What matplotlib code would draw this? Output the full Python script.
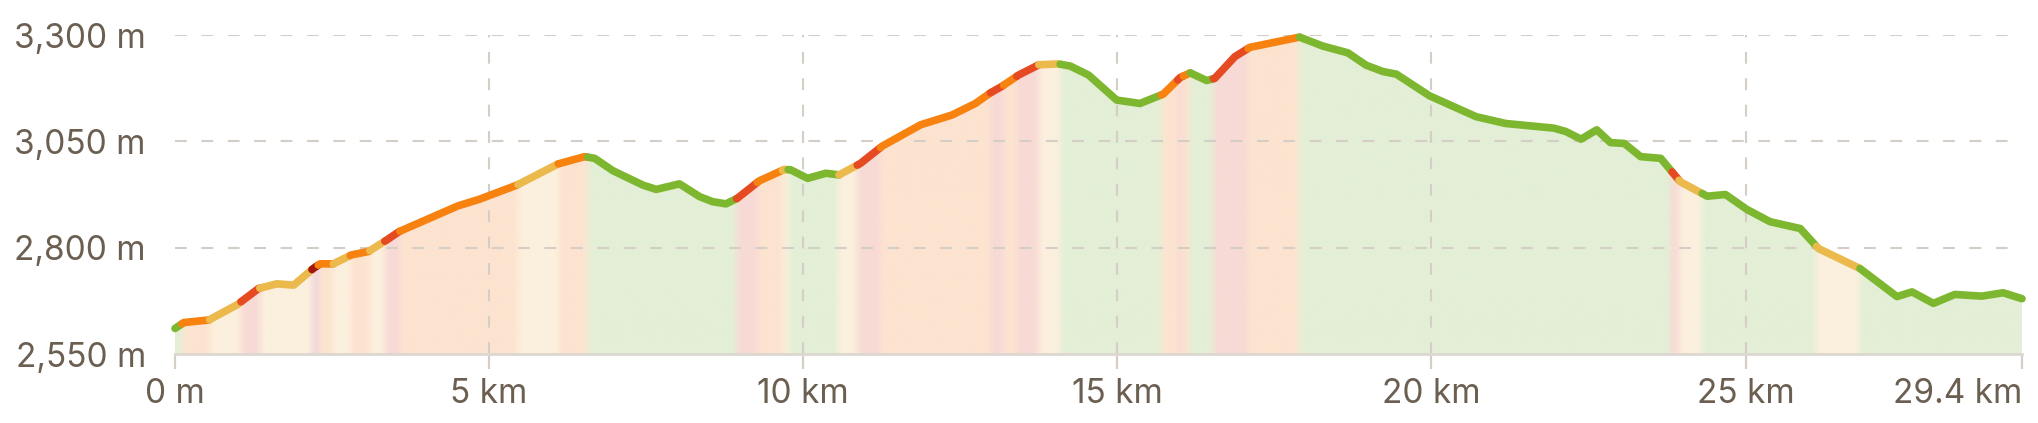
import numpy as np
import matplotlib
matplotlib.use('Agg')
import matplotlib.pyplot as plt
from matplotlib.patches import Polygon
from matplotlib.colors import to_rgb

# elevation profile (distance in km, elevation in m)
dist_km = [0.00, 0.14, 0.54, 0.99, 1.33, 1.62, 1.89, 2.20, 2.31, 2.52, 2.81, 3.08,
           3.37, 3.57, 4.50, 4.85, 5.44, 6.10, 6.52, 6.68, 6.97, 7.45, 7.66, 8.03,
           8.35, 8.56, 8.77, 8.95, 9.30, 9.70, 9.80, 10.07, 10.36, 10.57, 10.91, 11.26,
           11.87, 12.37, 12.74, 12.98, 13.16, 13.43, 13.75, 14.06, 14.25, 14.54, 14.99, 15.36,
           15.73, 16.00, 16.16, 16.42, 16.55, 16.87, 17.11, 17.90, 18.27, 18.67, 18.96, 19.23,
           19.44, 19.97, 20.71, 21.18, 21.95, 22.14, 22.38, 22.63, 22.85, 23.07, 23.33, 23.65,
           23.96, 24.39, 24.68, 25.02, 25.39, 25.87, 26.16, 26.82, 27.41, 27.65, 27.99, 28.33,
           28.76, 29.10, 29.40]
elev_m = [2610, 2624, 2630, 2666, 2704, 2715, 2712, 2751, 2762, 2762, 2783, 2791,
          2818, 2838, 2898, 2914, 2947, 2997, 3014, 3010, 2981, 2947, 2937, 2950,
          2920, 2908, 2903, 2916, 2957, 2984, 2983, 2963, 2975, 2971, 2998, 3039,
          3089, 3112, 3139, 3164, 3179, 3206, 3230, 3232, 3227, 3206, 3147, 3139,
          3161, 3200, 3211, 3193, 3198, 3249, 3271, 3295, 3274, 3258, 3229, 3214,
          3208, 3157, 3108, 3092, 3081, 3073, 3055, 3077, 3047, 3045, 3014, 3010,
          2955, 2921, 2925, 2890, 2861, 2845, 2798, 2751, 2685, 2696, 2669, 2690,
          2686, 2694, 2680]

# gradient classes along the route: g=easy, y=moderate, o=steep, r=very steep, d=extreme
band_start_km = [0.00, 0.11, 0.55, 1.05, 1.35, 2.18, 2.28, 2.52, 2.79, 3.10, 3.34, 3.58,
                 5.46, 6.10, 6.57, 8.94, 9.27, 9.67, 9.76, 10.57, 10.86, 11.23, 12.98, 13.19,
                 13.40, 13.75, 14.09, 15.70, 15.96, 16.05, 16.16, 16.53, 17.08, 17.90, 23.83, 23.94,
                 24.31, 26.13, 26.82]
band_grade = ['g', 'o', 'y', 'r', 'y', 'd', 'o', 'y', 'o', 'y', 'r', 'o',
              'y', 'o', 'g', 'r', 'o', 'y', 'g', 'y', 'r', 'o', 'r', 'o',
              'r', 'y', 'g', 'o', 'r', 'o', 'g', 'r', 'o', 'g', 'r', 'y',
              'g', 'y', 'g']

x_ticks = [0, 5, 10, 15, 20, 25, 29.4]
x_labels = ['0 m', '5 km', '10 km', '15 km', '20 km', '25 km', '29.4 km']
y_ticks = [2550, 2800, 3050, 3300]
y_labels = ['2,550 m', '2,800 m', '3,050 m', '3,300 m']

line_colors = {'g': '#7db72f', 'y': '#ebb94c', 'o': '#f7820f', 'r': '#e64a22', 'd': '#a3170c'}
fill_colors = {'g': '#e4efd6', 'y': '#fcf0dd', 'o': '#fde4d0', 'r': '#f8dad5', 'd': '#eed5dc'}

text_color = '#6b5f51'
grid_color = '#d4cec7'

plt.rcParams['font.family'] = ['Inter', 'DejaVu Sans']
plt.rcParams['lines.scale_dashes'] = False

x_max = dist_km[-1]
y_min, y_max = y_ticks[0], y_ticks[-1]

fig = plt.figure(figsize=(20.38, 4.23), dpi=100)
ax = fig.add_axes([175 / 2038, 1 - 354 / 423, (2022 - 175) / 2038, (354 - 35) / 423])
ax.set_xlim(0, x_max)
ax.set_ylim(y_min, y_max)

# background bands under the profile, softly blended
xs = np.linspace(0, x_max, 1400)
idx = np.searchsorted(band_start_km, xs, side='right') - 1
rgb = np.array([to_rgb(fill_colors[band_grade[i]]) for i in idx])
kernel = np.ones(7) / 7
rgb = np.stack([np.convolve(np.pad(rgb[:, c], 3, mode='edge'), kernel, mode='valid')
                for c in range(3)], axis=1)
im = ax.imshow(rgb[np.newaxis, :, :], extent=[0, x_max, y_min, y_max], aspect='auto',
               interpolation='bilinear', zorder=1)
outline = Polygon([(0, y_min)] + list(zip(dist_km, elev_m)) + [(x_max, y_min)],
                  closed=True, facecolor='none', edgecolor='none', transform=ax.transData)
ax.add_patch(outline)
im.set_clip_path(outline)

# grid
ax.hlines(y_ticks[1:], 0, x_max, colors=grid_color, linewidth=1.5,
          linestyles=(0, (8.5, 10.5)), zorder=2)
ax.vlines(x_ticks[1:-1], y_min, y_max, colors=grid_color, linewidth=1.5,
          linestyles=(0, (8.5, 10.5)), zorder=2)

# profile line coloured by gradient class
d = np.array(dist_km)
e = np.array(elev_m)
ends = band_start_km[1:] + [x_max]
for a, b, g in zip(band_start_km, ends, band_grade):
    inner = (d > a) & (d < b)
    xx = np.concatenate([[a], d[inner], [b]])
    yy = np.interp(xx, d, e)
    ax.plot(xx, yy, color=line_colors[g], linewidth=5.5, solid_capstyle='round',
            solid_joinstyle='round', zorder=3, clip_on=False)

for side in ['top', 'right', 'left']:
    ax.spines[side].set_visible(False)
ax.spines['bottom'].set_color('#dcd7d0')
ax.spines['bottom'].set_linewidth(2)
ax.spines['bottom'].set_zorder(2.5)

ax.set_xticks(x_ticks)
ax.set_xticklabels(x_labels)
ax.set_yticks(y_ticks)
ax.set_yticklabels(y_labels)
ax.tick_params(axis='x', length=11, width=1.6, color='#d4cec7', pad=6,
               labelsize=24, labelcolor=text_color)
ax.tick_params(axis='y', length=0, pad=21, labelsize=24, labelcolor=text_color)
ax.get_xticklabels()[-1].set_horizontalalignment('right')

fig.savefig('out.png', dpi=100, facecolor='white')
